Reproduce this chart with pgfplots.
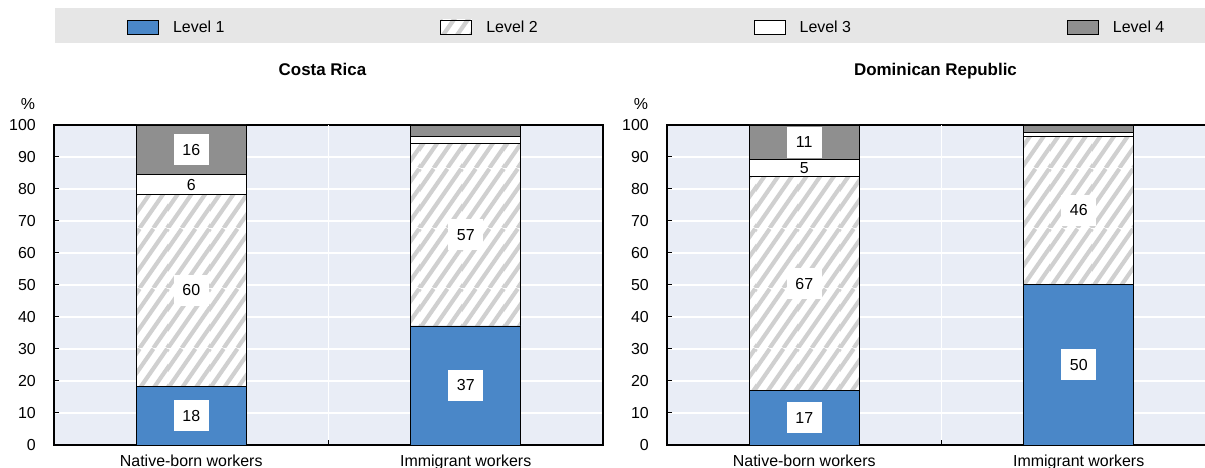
\documentclass[border=0pt]{standalone}
\usepackage{fontspec}
\setmainfont{Liberation Sans}
\usepackage{pgfplots}
\pgfplotsset{compat=1.18}
\usetikzlibrary{patterns}
\definecolor{lone}{RGB}{74,135,200}
\definecolor{lfour}{RGB}{143,143,143}
\definecolor{plotbg}{RGB}{233,237,246}
\definecolor{legbg}{RGB}{230,230,230}
\definecolor{hatchc}{RGB}{208,208,208}

\pgfdeclarepatterninherentlycolored{hstripesw}{\pgfqpoint{0bp}{0bp}}{\pgfqpoint{42bp}{60bp}}{\pgfqpoint{42bp}{60bp}}{%
  \pgfsetfillcolor{white}%
  \pgfpathrectangle{\pgfqpoint{-1bp}{-1bp}}{\pgfqpoint{44bp}{62bp}}%
  \pgfusepath{fill}%
  \pgfsetstrokecolor{hatchc}%
  \pgfsetlinewidth{4.2bp}%
  \pgfpathmoveto{\pgfqpoint{-42bp}{0bp}}\pgfpathlineto{\pgfqpoint{0bp}{60bp}}%
  \pgfpathmoveto{\pgfqpoint{-28bp}{0bp}}\pgfpathlineto{\pgfqpoint{14bp}{60bp}}%
  \pgfpathmoveto{\pgfqpoint{-14bp}{0bp}}\pgfpathlineto{\pgfqpoint{28bp}{60bp}}%
  \pgfpathmoveto{\pgfqpoint{0bp}{0bp}}\pgfpathlineto{\pgfqpoint{42bp}{60bp}}%
  \pgfpathmoveto{\pgfqpoint{14bp}{0bp}}\pgfpathlineto{\pgfqpoint{56bp}{60bp}}%
  \pgfpathmoveto{\pgfqpoint{28bp}{0bp}}\pgfpathlineto{\pgfqpoint{70bp}{60bp}}%
  \pgfpathmoveto{\pgfqpoint{42bp}{0bp}}\pgfpathlineto{\pgfqpoint{84bp}{60bp}}%
  \pgfusepath{stroke}%
}

\pgfplotsset{
 barleg/.style={legend image code/.code={\draw[#1] (0bp,-7bp) rectangle (31bp,7bp);}},
}
\pgfplotsset{
 panel/.style={
   scale only axis, width=549bp, height=320bp,
   xmin=-0.5, xmax=1.5, ymin=0, ymax=100,
 },
 mainax/.style={panel,
   ybar stacked, bar width=110bp,
   axis background/.style={fill=plotbg},
   axis line style={black, line width=1.3bp},
   xtick={0,1}, xticklabels={Native-born workers, Immigrant workers},
   xtick style={draw=none},
   ytick={0,10,...,100},
   tick pos=left, tick align=inside,
   ymajorgrids, major grid style={white, line width=1.5bp},
   ytick style={black, line width=1bp}, major tick length=5bp,
   extra x ticks={0.5}, extra x tick labels={},
   extra x tick style={grid=major, xtick style={draw=black, line width=1bp}},
   /pgf/number format/assume math mode=true,
   yticklabel style={anchor=east, inner sep=0pt, xshift=-18bp, font=\fontsize{16}{18}\selectfont},
   xticklabel style={anchor=base, yshift=-21bp, font=\fontsize{16}{18}\selectfont},
   every axis y label/.style={at={(rel axis cs:0,1)}, anchor=base, xshift=-26bp, yshift=15bp, inner sep=0pt, font=\fontsize{16}{18}\selectfont},
   ylabel={\%},
   title style={at={(0.5,1)}, anchor=base, yshift=44bp, xshift=-6bp, font=\bfseries\fontsize{17}{19}\selectfont},
   every axis plot/.append style={draw=black, line width=0.9bp},
   every axis plot post/.append style={barleg},
 },
 lvltwo/.style={pattern=hstripesw},
 labax/.style={panel, hide axis, clip=false},
 boxlab/.style={draw=none, mark=none, nodes near coords, point meta=explicit symbolic,
   every node near coord/.append style={anchor=center, fill=white, minimum width=35bp, minimum height=31bp, inner sep=0pt, font=\fontsize{16}{19}\selectfont}},
 plainlab/.style={draw=none, mark=none, nodes near coords, point meta=explicit symbolic,
   every node near coord/.append style={anchor=center, inner sep=0pt, font=\fontsize{16}{19}\selectfont}},
}

\begin{document}
\begin{tikzpicture}
\useasboundingbox (0bp,0bp) rectangle (1205bp,468bp);
\fill[legbg] (55bp,425bp) rectangle (1215bp,460bp);

\begin{axis}[mainax, at={(54bp,23bp)}, anchor=south west, title={Costa Rica},
  legend columns=4,
  legend style={at={(0.13297,1.30625)}, anchor=west, draw=none, fill=none, inner sep=0pt,
    font=\fontsize{16}{18}\selectfont,
    /tikz/every odd column/.append style={column sep=12bp},
    /tikz/every even column/.append style={column sep=214bp}},
  legend cell align=left]
\addplot[fill=lone] coordinates {(0,18.4) (1,37.2)};
\addplot[lvltwo] coordinates {(0,60.0) (1,56.9)};
\addplot[fill=white] coordinates {(0,6.0) (1,2.4)};
\addplot[fill=lfour] coordinates {(0,15.6) (1,3.5)};
\legend{Level 1, Level 2, Level 3, Level 4}
\end{axis}
\begin{axis}[labax, at={(54bp,23bp)}, anchor=south west]
\addplot[boxlab] coordinates {(0,9.2)[18] (0,48.4)[60] (0,92.2)[16] (1,18.6)[37] (1,65.65)[57]};
\addplot[plainlab] coordinates {(0,81.4)[6]};
\end{axis}

\begin{axis}[mainax, at={(667bp,23bp)}, anchor=south west, title={Dominican Republic}]
\addplot[fill=lone] coordinates {(0,16.9) (1,50.3)};
\addplot[lvltwo] coordinates {(0,67.0) (1,46.2)};
\addplot[fill=white] coordinates {(0,5.3) (1,1.3)};
\addplot[fill=lfour] coordinates {(0,10.8) (1,2.2)};
\end{axis}
\begin{axis}[labax, at={(667bp,23bp)}, anchor=south west]
\addplot[boxlab] coordinates {(0,8.45)[17] (0,50.4)[67] (0,94.6)[11] (1,25.15)[50] (1,73.4)[46]};
\addplot[plainlab] coordinates {(0,86.55)[5]};
\end{axis}
\end{tikzpicture}
\end{document}
